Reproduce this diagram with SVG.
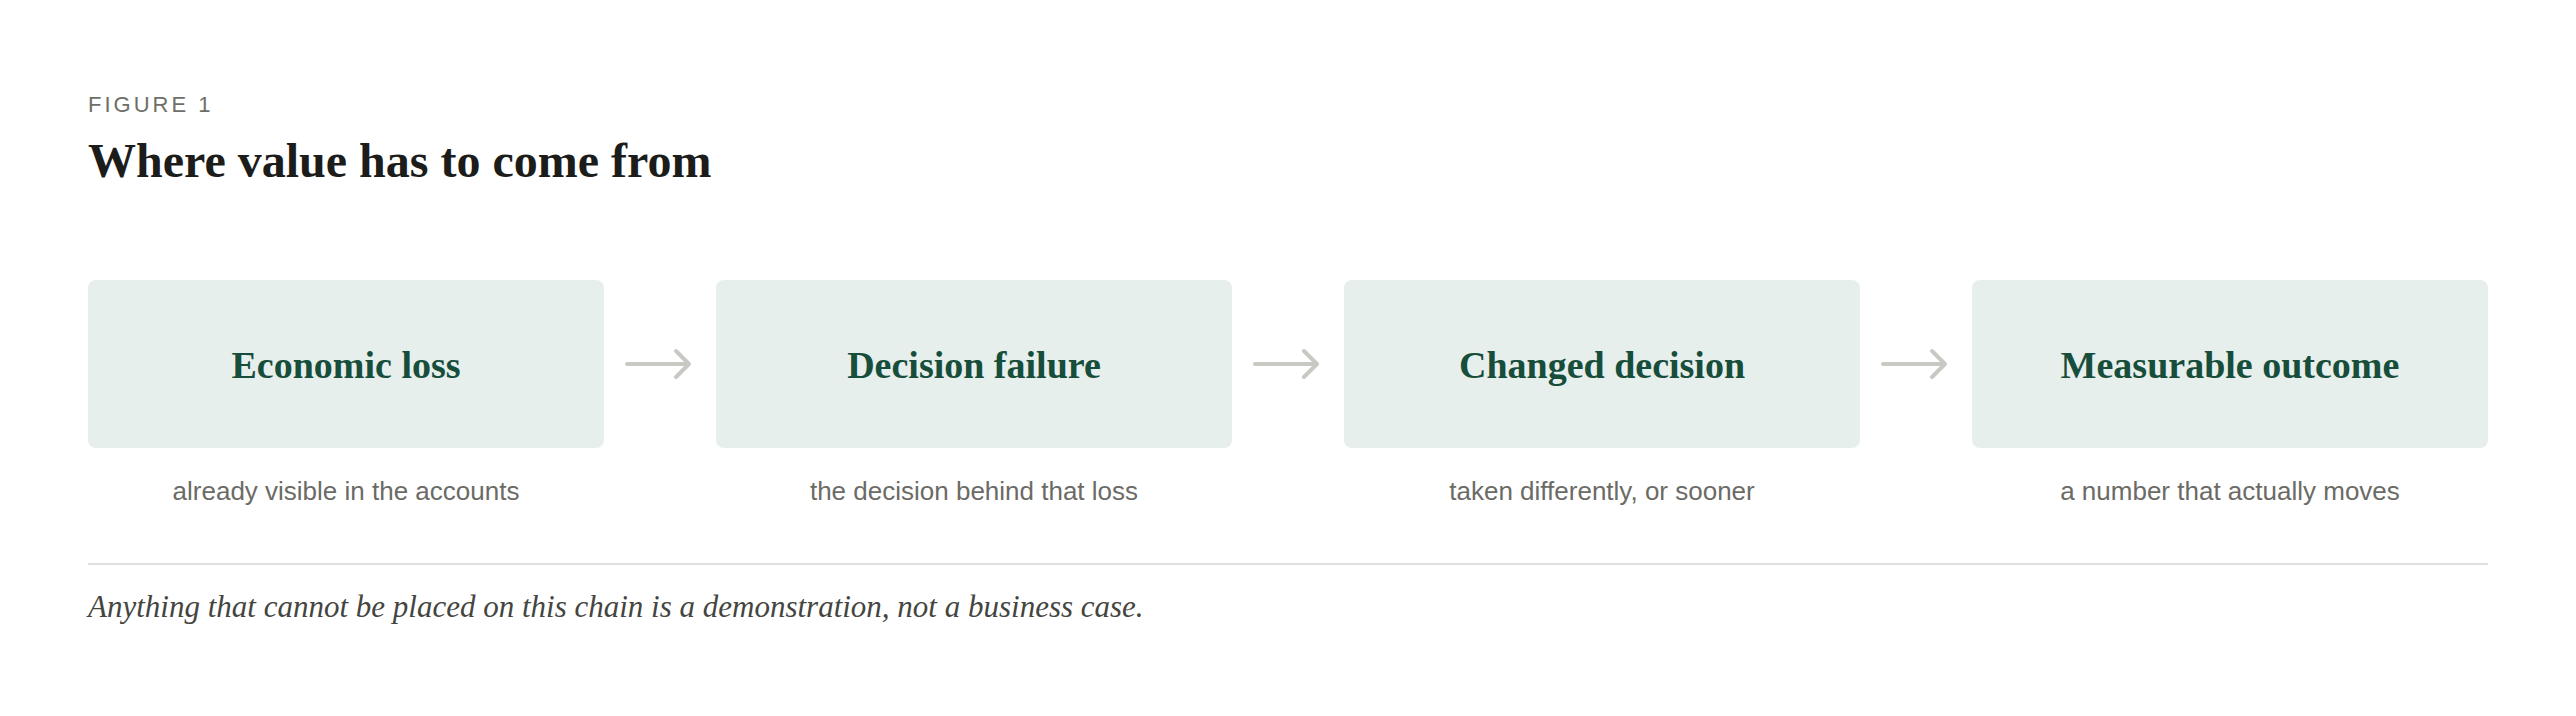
<svg xmlns="http://www.w3.org/2000/svg" width="2576" height="716" viewBox="0 0 2576 716">
<style>
.kicker{font-family:"Liberation Sans",Arial,sans-serif;font-size:22px;letter-spacing:3px;fill:#6e6e68}
.title{font-family:"Liberation Serif","Times New Roman",serif;font-size:48px;font-weight:bold;fill:#1c1c1a}
.box{fill:#e6efec}
.label{font-family:"Liberation Serif","Times New Roman",serif;font-size:38px;font-weight:bold;fill:#174d3b;text-anchor:middle}
.sub{font-family:"Liberation Sans",Arial,sans-serif;font-size:26px;fill:#6b6b66;text-anchor:middle}
.arrow{fill:none;stroke:#c9c9c3;stroke-width:4;stroke-linecap:round;stroke-linejoin:round}
.note{font-family:"Liberation Serif","Times New Roman",serif;font-size:31px;font-style:italic;fill:#45453f}
</style>
<rect width="2576" height="716" fill="#ffffff"/>
<g id="header">
<text class="kicker" x="88" y="112">FIGURE 1</text>
<text class="title" x="88" y="177">Where value has to come from</text>
</g>
<g id="node-economic-loss">
<rect class="box" x="88" y="280" width="516" height="168" rx="8"/>
<text class="label" x="346" y="378">Economic loss</text>
<text class="sub" x="346" y="500">already visible in the accounts</text>
</g>
<g id="node-decision-failure">
<rect class="box" x="716" y="280" width="516" height="168" rx="8"/>
<text class="label" x="974" y="378">Decision failure</text>
<text class="sub" x="974" y="500">the decision behind that loss</text>
</g>
<g id="node-changed-decision">
<rect class="box" x="1344" y="280" width="516" height="168" rx="8"/>
<text class="label" x="1602" y="378">Changed decision</text>
<text class="sub" x="1602" y="500">taken differently, or sooner</text>
</g>
<g id="node-measurable-outcome">
<rect class="box" x="1972" y="280" width="516" height="168" rx="8"/>
<text class="label" x="2230" y="378">Measurable outcome</text>
<text class="sub" x="2230" y="500">a number that actually moves</text>
</g>
<g id="connectors">
<path class="arrow" d="M627 364 H689 M676 351 L689 364 L676 377"/>
<path class="arrow" d="M1255 364 H1317 M1304 351 L1317 364 L1304 377"/>
<path class="arrow" d="M1883 364 H1945 M1932 351 L1945 364 L1932 377"/>
</g>
<g id="footer">
<rect x="88" y="563" width="2400" height="2" fill="#e0e0dc"/>
<text class="note" x="88" y="617">Anything that cannot be placed on this chain is a demonstration, not a business case.</text>
</g>
</svg>
